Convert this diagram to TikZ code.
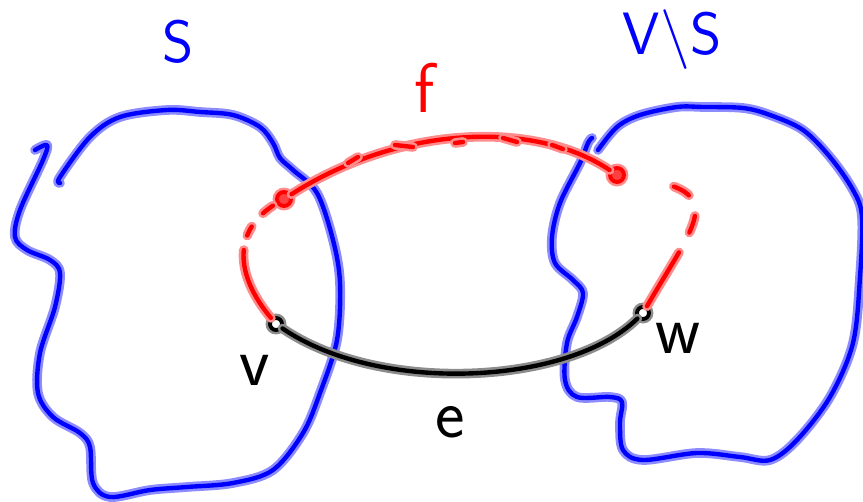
\documentclass[tikz,border=0pt]{standalone}
\usepackage{tikz}
\usetikzlibrary{positioning}

\begin{document}
\begin{tikzpicture}[
  x=0.02cm, y=-0.02cm,
  ink/.style   ={draw=#1, line width=2.5pt, line cap=round, line join=round,
                 preaction={draw=#1!45, line width=5.5pt, line cap=round, line join=round}},
  inkdash/.style={draw=red, line width=2.5pt, line cap=round, line join=round, dash pattern=#1,
                 preaction={draw=red!45, line width=5.5pt, line cap=round, line join=round,
                            dash pattern=#1}},
  vtx/.style   ={circle, draw=black, fill=white, line width=2.2pt, inner sep=0pt,
                 minimum size=0.24cm, preaction={draw=black!45, line width=5pt}},
  fend/.style  ={circle, draw=red, fill=red!75, line width=2.2pt, inner sep=0pt,
                 minimum size=0.28cm, preaction={draw=red!45, line width=5pt}},
  lbl/.style   ={text=#1, inner sep=0pt, font=\sffamily\fontsize{40}{40}\selectfont},
  biglbl/.style={text=#1, inner sep=0pt, font=\sffamily\fontsize{34}{34}\selectfont}
]
\useasboundingbox (0,0) rectangle (863,502);

% --- the two vertex sets ---
\draw[ink=blue] plot[smooth, tension=0.55] coordinates {
  (60,183) (60,177) (90,137) (120,117) (167,110) (200,112) (233,115) (260,127)
  (273,143) (280,158) (293,170) (317,193) (333,240) (340,283) (337,340) (320,393)
  (303,433) (273,470) (233,483) (187,487) (150,490) (110,497) (93,483) (90,447)
  (80,433) (53,417) (38,393) (40,353) (55,307) (60,273) (50,260) (27,250)
  (15,237) (20,210) (43,160) (47,145) (35,150)};
\draw[ink=blue] plot[smooth, tension=0.55] coordinates {
  (598,150) (617,127) (640,115) (677,107) (703,107) (743,108) (770,115) (803,130)
  (830,157) (853,190) (862,217) (860,277) (853,343) (830,397) (797,440) (770,460)
  (740,457) (697,453) (643,460) (623,450) (620,423) (622,402) (610,397) (577,397)
  (565,380) (567,343) (577,317) (583,293) (573,280) (555,263) (552,237) (560,203)
  (580,163) (588,143) (592,138)};

% --- vertices ---
\node[vtx]  (v)  at (276,324) {};
\node[vtx]  (w)  at (643,313) {};
\node[fend] (fl) at (284,199) {};
\node[fend] (fr) at (617,175) {};

% --- edge e ---
\draw[ink=black] (v) .. controls (380,395) and (570,385) .. (w);

% --- edge f and the dashed paths to its ends ---
\draw[ink=red] (fl) .. controls (400,125) and (535,120) .. (fr);
\draw[inkdash=on 1.5cm off 0.3cm on 0.2cm off 0.35cm on 0.25cm off 3cm]
  (v) .. controls (235,275) and (232,230) .. (fl);
\draw[inkdash=on 1.25cm off 0.45cm on 0.35cm off 0.45cm on 0.35cm off 3cm]
  (w) .. controls (700,215) and (730,190) .. (fr);
\foreach \xa/\ya/\xb/\yb in {348/163/358/157, 395/145/413/147, 455/143/463/142,
                             503/138/517/142, 552/145/563/149}
  \draw[ink=red] (\xa,\ya) -- (\xb,\yb);

% --- labels ---
\node[biglbl=blue] (labS)  at (178,42) {S};
\node[biglbl=blue] (labVS) at (672,40) {V\textbackslash S};
\node[lbl=red]     (labf)  at (425,88) {f};
\node[lbl=black]   (labv)  at (255,370) {v};
\node[lbl=black]   (labe)  at (450,422) {e};
\node[lbl=black]   (labw)  at (678,338) {w};

\end{tikzpicture}
\end{document}
